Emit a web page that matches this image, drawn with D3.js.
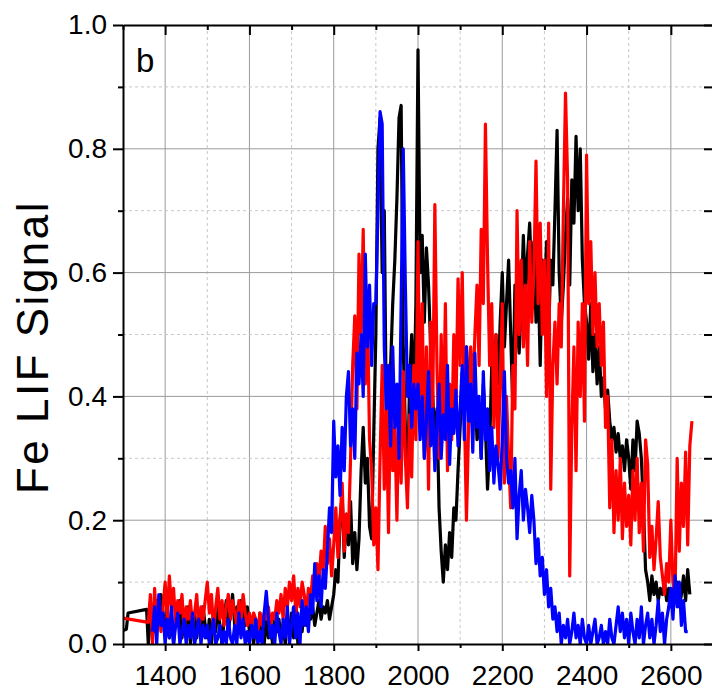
<!DOCTYPE html>
<html lang="en">
<head>
<meta charset="UTF-8">
<title>Fe LIF Signal</title>
<script src="https://d3js.org/d3.v7.min.js"></script>
<style>
  body { margin: 0; background: #fff; }
  svg { display: block; font-family: "Liberation Sans", Arial, sans-serif; }
  .axis path, .axis line { stroke: #000; stroke-width: 2; }
</style>
</head>
<body>
<svg width="712" height="691"></svg>
<script>
// sampling grid of the traces (wavelength-ish units on x)
const STEP = 5;

const xMajor = [1400, 1600, 1800, 2000, 2200, 2400, 2600];
const xMinor = [1300, 1500, 1700, 1900, 2100, 2300, 2500, 2700];
const yMajor = [0.0, 0.2, 0.4, 0.6, 0.8, 1.0];
const yMinor = [0.1, 0.3, 0.5, 0.7, 0.9];

// black trace: a few sparse points, then dense from 1360
const blackHeadX = [1300, 1308, 1312, 1356];
const blackHeadY = [0.022, 0.024, 0.05, 0.056];
const blackStart = 1360;
const blackY = [
  0.0, 0.04, 0.06, 0.02, 0.07, 0.03, 0.08, 0.05,
  0.02, 0.06, 0.01, 0.04, 0.0, 0.05, 0.03, 0.07, 0.01, 0.04, 0.02, 0.06, 0.0, 0.03, 0.05, 0.01, 0.04, 0.02, 0.06, 0.03,
  0.01, 0.04, 0.0, 0.05, 0.02, 0.06, 0.03, 0.0, 0.04, 0.07, 0.02, 0.05, 0.08, 0.03, 0.06, 0.04, 0.07, 0.05, 0.03, 0.06,
  0.02, 0.04, 0.0, 0.03, 0.01, 0.05, 0.02, 0.0, 0.04, 0.01, 0.03, 0.0, 0.05, 0.02, 0.04, 0.01, 0.03, 0.0, 0.04, 0.02,
  0.05, 0.01, 0.07, 0.0, 0.04, 0.02, 0.06, 0.03, 0.05, 0.04, 0.06, 0.03, 0.05, 0.07, 0.04, 0.06, 0.05, 0.07, 0.04, 0.06,
  0.08, 0.12, 0.10, 0.20, 0.24, 0.14, 0.21, 0.16, 0.23, 0.13, 0.18, 0.12, 0.17, 0.28, 0.35, 0.26, 0.30, 0.19, 0.17, 0.34,
  0.50, 0.80, 0.85, 0.60, 0.70, 0.35, 0.25, 0.45, 0.55, 0.62, 0.72, 0.85, 0.87, 0.48, 0.35, 0.25, 0.42, 0.50, 0.38, 0.55,
  0.96, 0.60, 0.66, 0.52, 0.64, 0.58, 0.48, 0.40, 0.33, 0.38, 0.22, 0.15, 0.10, 0.16, 0.12, 0.18, 0.14, 0.22, 0.20, 0.28,
  0.35, 0.44, 0.38, 0.48, 0.40, 0.36, 0.45, 0.42, 0.33, 0.38, 0.30, 0.42, 0.35, 0.25, 0.32, 0.45, 0.38, 0.50, 0.42, 0.52,
  0.60, 0.48, 0.55, 0.62, 0.50, 0.38, 0.58, 0.52, 0.47, 0.55, 0.66, 0.56, 0.63, 0.68, 0.58, 0.65, 0.52, 0.60, 0.45, 0.62,
  0.55, 0.65, 0.50, 0.62, 0.58, 0.70, 0.83, 0.60, 0.52, 0.58, 0.66, 0.72, 0.58, 0.75, 0.68, 0.82, 0.70, 0.80, 0.62, 0.55,
  0.52, 0.46, 0.55, 0.44, 0.50, 0.42, 0.48, 0.40, 0.43, 0.38, 0.41, 0.36, 0.33, 0.35, 0.31, 0.34, 0.30, 0.32, 0.28, 0.33,
  0.30, 0.25, 0.33, 0.28, 0.36, 0.34, 0.30, 0.22, 0.12, 0.10, 0.07, 0.11, 0.08, 0.10, 0.07, 0.09, 0.08, 0.10, 0.07, 0.09,
  0.06, 0.09, 0.07, 0.10, 0.06, 0.08, 0.11, 0.07, 0.12, 0.08
];

// red trace
const redHeadX = [1300];
const redHeadY = [0.042];
const redStart = 1360;
const redY = [
  0.035, 0.08, 0.0, 0.09, 0.03, 0.07, 0.02, 0.06,
  0.10, 0.04, 0.11, 0.06, 0.09, 0.03, 0.07, 0.05, 0.08, 0.02, 0.06, 0.04, 0.07, 0.03, 0.05, 0.08, 0.02, 0.06, 0.04, 0.07,
  0.10, 0.05, 0.08, 0.02, 0.06, 0.09, 0.04, 0.07, 0.03, 0.06, 0.08, 0.04, 0.07, 0.05, 0.03, 0.07, 0.04, 0.08, 0.05, 0.03,
  0.05, 0.03, 0.05, 0.04, 0.02, 0.05, 0.03, 0.05, 0.04, 0.06, 0.03, 0.05, 0.04, 0.07, 0.05, 0.08, 0.04, 0.09, 0.06, 0.10,
  0.07, 0.11, 0.05, 0.09, 0.06, 0.10, 0.08, 0.05, 0.09, 0.07, 0.11, 0.08, 0.13, 0.10, 0.15, 0.12, 0.19, 0.13, 0.17, 0.11,
  0.16, 0.22, 0.14, 0.20, 0.26, 0.15, 0.21, 0.18, 0.30, 0.45, 0.53, 0.38, 0.63, 0.50, 0.67, 0.42, 0.55, 0.33, 0.28, 0.16,
  0.22, 0.12, 0.30, 0.45, 0.25, 0.38, 0.18, 0.42, 0.28, 0.35, 0.20, 0.40, 0.26, 0.44, 0.30, 0.22, 0.37, 0.27, 0.45, 0.33,
  0.65, 0.35, 0.55, 0.30, 0.48, 0.25, 0.52, 0.38, 0.71, 0.45, 0.30, 0.50, 0.35, 0.55, 0.28, 0.42, 0.33, 0.50, 0.38, 0.59,
  0.45, 0.60, 0.38, 0.20, 0.35, 0.48, 0.40, 0.50, 0.58, 0.45, 0.67, 0.55, 0.84, 0.62, 0.45, 0.55, 0.35, 0.50, 0.30, 0.42,
  0.55, 0.26, 0.40, 0.30, 0.22, 0.45, 0.38, 0.70, 0.50, 0.62, 0.48, 0.58, 0.45, 0.65, 0.52, 0.60, 0.78, 0.55, 0.68, 0.50,
  0.62, 0.40, 0.68, 0.25, 0.45, 0.52, 0.42, 0.55, 0.48, 0.70, 0.89, 0.75, 0.11, 0.35, 0.48, 0.28, 0.52, 0.40, 0.55, 0.36,
  0.79, 0.55, 0.65, 0.50, 0.60, 0.48, 0.55, 0.45, 0.52, 0.35, 0.40, 0.22, 0.33, 0.18, 0.28, 0.20, 0.30, 0.17, 0.26, 0.19,
  0.24, 0.16, 0.28, 0.20, 0.30, 0.18, 0.26, 0.15, 0.33, 0.29, 0.14, 0.19, 0.12, 0.17, 0.23, 0.14, 0.11, 0.08, 0.13, 0.10,
  0.20, 0.10, 0.08, 0.30, 0.15, 0.26, 0.19, 0.31, 0.16, 0.32, 0.36
];

// blue trace
const blueStart = 1370;
const blueY = [
  0.02, 0.06, 0.0, 0.08, 0.03, 0.05,
  0.0, 0.04, 0.01, 0.06, 0.0, 0.03, 0.05, 0.0, 0.02, 0.04, 0.0, 0.03, 0.01, 0.05, 0.0, 0.02, 0.04, 0.0, 0.03, 0.01,
  0.03, 0.0, 0.02, 0.04, 0.0, 0.01, 0.03, 0.0, 0.02, 0.0, 0.04, 0.01, 0.0, 0.03, 0.0, 0.05, 0.01, 0.04, 0.0, 0.02,
  0.0, 0.03, 0.01, 0.04, 0.0, 0.02, 0.0, 0.05, 0.085, 0.04, 0.01, 0.03, 0.0, 0.05, 0.02, 0.0, 0.04, 0.01, 0.06, 0.0,
  0.03, 0.06, 0.01, 0.05, 0.0, 0.07, 0.03, 0.06, 0.02, 0.08, 0.05, 0.13, 0.07, 0.11, 0.06, 0.12, 0.09, 0.15, 0.22, 0.18,
  0.36, 0.27, 0.32, 0.24, 0.35, 0.28, 0.40, 0.44, 0.32, 0.38, 0.30, 0.47, 0.42, 0.50, 0.40, 0.63, 0.48, 0.58, 0.45, 0.55,
  0.55, 0.70, 0.86, 0.84, 0.48, 0.38, 0.45, 0.32, 0.48, 0.35, 0.42, 0.30, 0.55, 0.80, 0.58, 0.40, 0.45, 0.35, 0.42, 0.38,
  0.42, 0.33, 0.40, 0.30, 0.36, 0.44, 0.32, 0.38, 0.28, 0.35, 0.42, 0.30, 0.37, 0.33, 0.45, 0.29, 0.38, 0.34, 0.41, 0.32,
  0.38, 0.45, 0.33, 0.48, 0.36, 0.42, 0.31, 0.47, 0.35, 0.40, 0.30, 0.44, 0.33, 0.38, 0.28, 0.35, 0.26, 0.32, 0.29, 0.25,
  0.33, 0.44, 0.30, 0.26, 0.28, 0.22, 0.30, 0.17, 0.24, 0.28, 0.20, 0.25, 0.22, 0.18, 0.24, 0.20, 0.13, 0.17, 0.11, 0.14,
  0.08, 0.12, 0.06, 0.09, 0.04, 0.06, 0.02, 0.05, 0.0, 0.03, 0.01, 0.04, 0.0, 0.02, 0.05, 0.01, 0.03, 0.0, 0.04, 0.01,
  0.0, 0.03, 0.0, 0.02, 0.04, 0.0, 0.01, 0.03, 0.0, 0.02, 0.0, 0.04, 0.01, 0.0, 0.03, 0.06, 0.02, 0.05, 0.01, 0.04,
  0.0, 0.05, 0.02, 0.0, 0.04, 0.01, 0.06, 0.0, 0.03, 0.05, 0.01, 0.04, 0.0, 0.03, 0.07, 0.02, 0.05, 0.0, 0.04, 0.06,
  0.09, 0.04, 0.11, 0.06, 0.10, 0.03, 0.07, 0.02, 0.02
];

const margin = { top: 25, left: 123 };
const width = 590, height = 619;

const svg = d3.select("svg");
const g = svg.append("g").attr("transform", `translate(${margin.left},${margin.top})`);

const x = d3.scaleLinear().domain([1300, 2700]).range([0, width]);
const y = d3.scaleLinear().domain([0, 1]).range([height, 0]);

// grid
g.selectAll(".gx-major").data(xMajor).join("line")
  .attr("x1", d => x(d)).attr("x2", d => x(d)).attr("y1", 0).attr("y2", height)
  .attr("stroke", "#9a9a9a").attr("stroke-width", 1);
g.selectAll(".gx-minor").data(xMinor.slice(1, -1)).join("line")
  .attr("x1", d => x(d)).attr("x2", d => x(d)).attr("y1", 0).attr("y2", height)
  .attr("stroke", "#c8c8c8").attr("stroke-width", 1).attr("stroke-dasharray", "3,3");
g.selectAll(".gy-major").data(yMajor.slice(1, -1)).join("line")
  .attr("x1", 0).attr("x2", width).attr("y1", d => y(d)).attr("y2", d => y(d))
  .attr("stroke", "#9a9a9a").attr("stroke-width", 1);
g.selectAll(".gy-minor").data(yMinor).join("line")
  .attr("x1", 0).attr("x2", width).attr("y1", d => y(d)).attr("y2", d => y(d))
  .attr("stroke", "#c8c8c8").attr("stroke-width", 1).attr("stroke-dasharray", "3,3");

// traces
function buildSeries(headX, headY, start, values) {
  const pts = headX.map((hx, i) => [hx, headY[i]]);
  values.forEach((v, i) => pts.push([start + i * STEP, v]));
  return pts;
}
const series = [
  { pts: buildSeries(blackHeadX, blackHeadY, blackStart, blackY), color: "#000000" },
  { pts: buildSeries(redHeadX, redHeadY, redStart, redY), color: "#ff0000" },
  { pts: buildSeries([], [], blueStart, blueY), color: "#0000ff" }
];

svg.append("defs").append("clipPath").attr("id", "plot-clip")
  .append("rect").attr("x", 0).attr("y", -2).attr("width", width).attr("height", height + 2);

const line = d3.line().x(d => x(d[0])).y(d => y(d[1]));
const traces = g.append("g").attr("clip-path", "url(#plot-clip)");
series.forEach(s => {
  traces.append("path")
    .datum(s.pts)
    .attr("fill", "none")
    .attr("stroke", s.color)
    .attr("stroke-width", 3.2)
    .attr("stroke-linejoin", "round")
    .attr("d", line);
});

// axes
const fmt = d3.format(".1f");
const labelFont = "Liberation Sans, Arial, sans-serif";
g.append("g").attr("class", "axis")
  .call(d3.axisLeft(y).tickValues(yMajor).tickFormat(fmt).tickSize(10).tickSizeOuter(0).tickPadding(6))
  .call(a => a.selectAll("text").attr("font-size", 28).attr("font-family", labelFont));
g.append("g").attr("class", "axis")
  .call(d3.axisLeft(y).tickValues(yMinor).tickFormat("").tickSize(5).tickSizeOuter(0))
  .call(a => a.select(".domain").remove());

g.append("g").attr("class", "axis").attr("transform", `translate(0,${height})`)
  .call(d3.axisBottom(x).tickValues(xMajor).tickFormat(d3.format("d")).tickSize(7).tickSizeOuter(0).tickPadding(14))
  .call(a => a.selectAll("text").attr("font-size", 28).attr("font-family", labelFont));
g.append("g").attr("class", "axis").attr("transform", `translate(0,${height})`)
  .call(d3.axisBottom(x).tickValues(xMinor).tickFormat("").tickSize(4).tickSizeOuter(0))
  .call(a => a.select(".domain").remove());

g.append("g").attr("class", "axis")
  .call(d3.axisTop(x).tickValues(xMajor).tickFormat("").tickSize(-10).tickSizeOuter(0));
g.append("g").attr("class", "axis")
  .call(d3.axisTop(x).tickValues(xMinor).tickFormat("").tickSize(-5).tickSizeOuter(0))
  .call(a => a.select(".domain").remove());

g.append("g").attr("class", "axis").attr("transform", `translate(${width},0)`)
  .call(d3.axisRight(y).tickValues(yMajor.concat(yMinor)).tickFormat("").tickSize(-9).tickSizeOuter(0));

// labels
svg.append("text")
  .attr("transform", "translate(48,347) rotate(-90)")
  .attr("text-anchor", "middle")
  .attr("font-size", 44)
  .attr("letter-spacing", 2.5)
  .text("Fe LIF Signal");

g.append("text")
  .attr("x", 13).attr("y", 47)
  .attr("font-size", 33)
  .text("b");
</script>
</body>
</html>
